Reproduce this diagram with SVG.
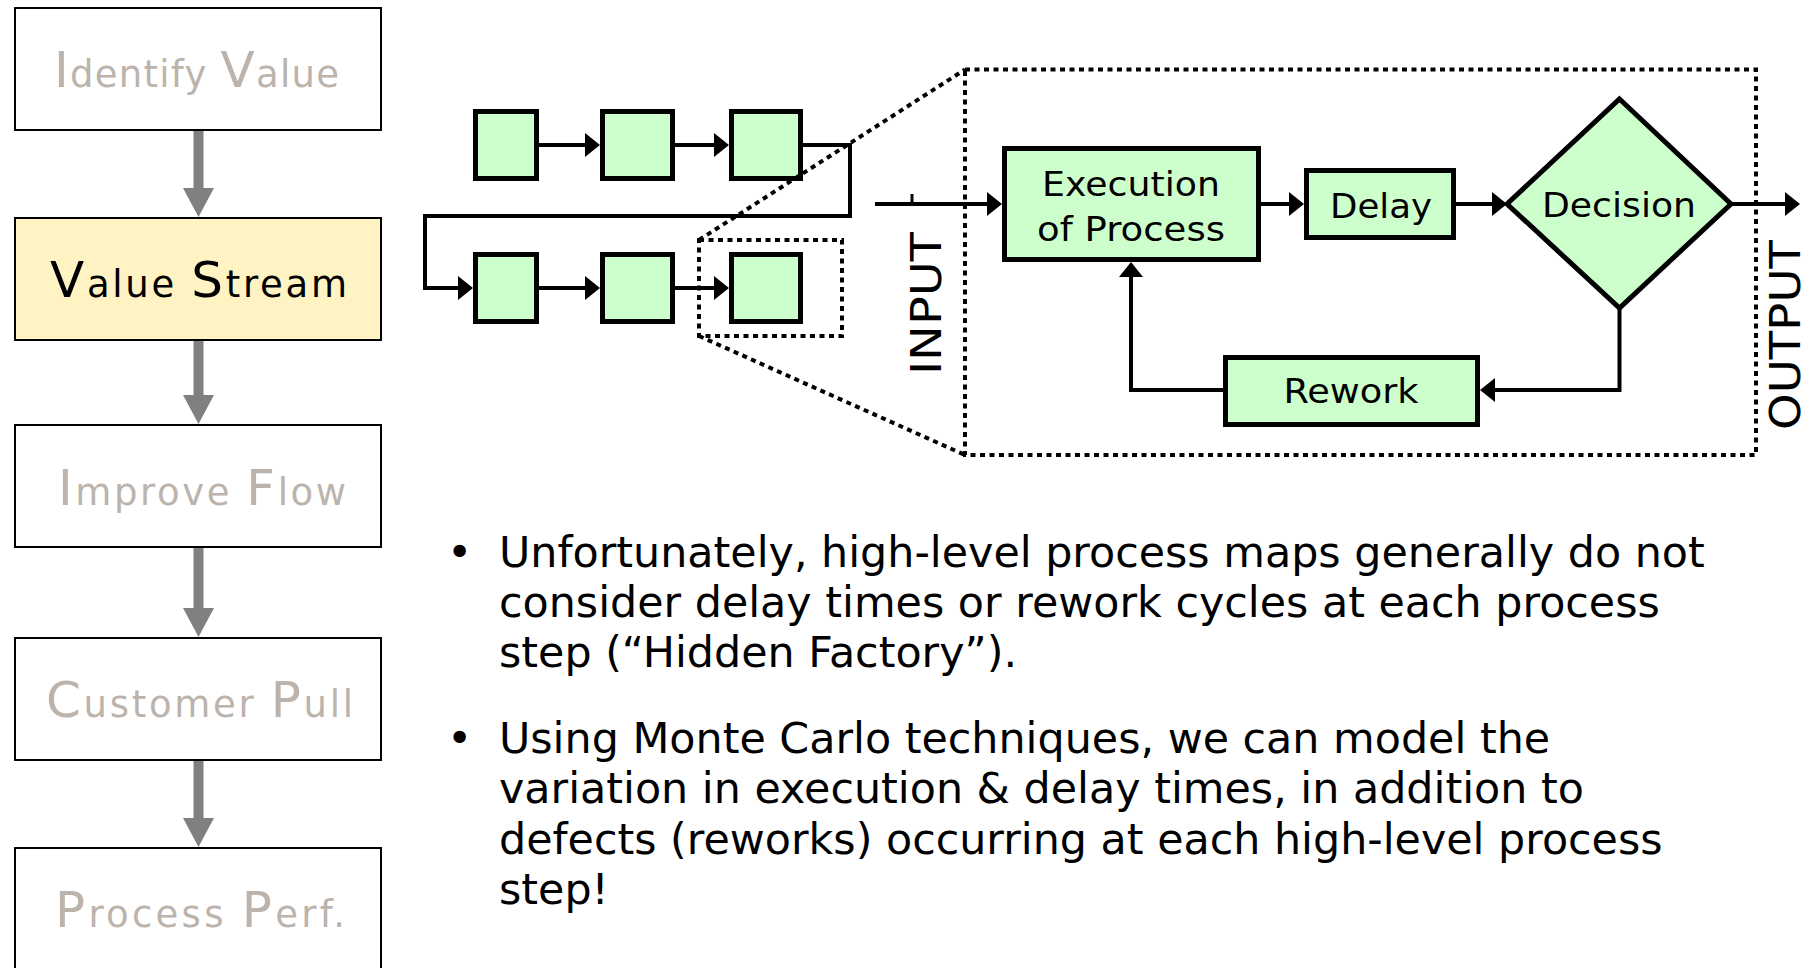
<svg xmlns="http://www.w3.org/2000/svg" width="1802" height="968" viewBox="0 0 1802 968">
  <defs>
    <style>
      .step { fill: #ffffff; stroke: #000000; stroke-width: 2; }
      .step.active { fill: #fff3c4; }
      .stepText { font-family: "DejaVu Sans", "Liberation Sans", sans-serif; fill: #bcb4ac; font-size: 37px; }
      .stepText.active { fill: #000000; }
      .cap { font-size: 50px; }
      .flowArrow { fill: #808080; }
      .box { fill: #ccffcc; stroke: #000000; stroke-width: 5; }
      .mini { fill: #ccffcc; stroke: #000000; stroke-width: 5; }
      .wire { fill: none; stroke: #000000; stroke-width: 4; marker-end: url(#head); }
      .plain { fill: none; stroke: #000000; stroke-width: 3; }
      .dots { fill: none; stroke: #000000; stroke-width: 4; stroke-dasharray: 5 4.5; }
      .label { font-family: "DejaVu Sans", "Liberation Sans", sans-serif; font-size: 33px; fill: #000000; text-anchor: middle; }
      .side { font-family: "DejaVu Sans", "Liberation Sans", sans-serif; font-size: 42.5px; fill: #000000; text-anchor: middle; }
      .body { font-family: "DejaVu Sans", "Liberation Sans", sans-serif; font-size: 42.8px; fill: #000000; }
    </style>
    <marker id="head" viewBox="0 -12 15 24" refX="0" refY="0" markerWidth="15" markerHeight="24" markerUnits="userSpaceOnUse" orient="auto">
      <path d="M0,-12 L15,0 L0,12 Z" fill="#000000"/>
    </marker>
  </defs>

  <rect width="1802" height="968" fill="#ffffff"/>

  <!-- Lean roadmap column -->
  <g id="step-identify-value">
    <rect class="step" x="15" y="8" width="366" height="122"/>
    <text class="stepText" x="54" y="87" textLength="285" lengthAdjust="spacing"><tspan class="cap">I</tspan>dentify <tspan class="cap">V</tspan>alue</text>
  </g>
  <g id="step-value-stream">
    <rect class="step active" x="15" y="218" width="366" height="122"/>
    <text class="stepText active" x="50" y="297" textLength="297" lengthAdjust="spacing"><tspan class="cap">V</tspan>alue <tspan class="cap">S</tspan>tream</text>
  </g>
  <g id="step-improve-flow">
    <rect class="step" x="15" y="425" width="366" height="122"/>
    <text class="stepText" x="58" y="505" textLength="288" lengthAdjust="spacing"><tspan class="cap">I</tspan>mprove <tspan class="cap">F</tspan>low</text>
  </g>
  <g id="step-customer-pull">
    <rect class="step" x="15" y="638" width="366" height="122"/>
    <text class="stepText" x="46" y="717" textLength="307" lengthAdjust="spacing"><tspan class="cap">C</tspan>ustomer <tspan class="cap">P</tspan>ull</text>
  </g>
  <g id="step-process-perf">
    <rect class="step" x="15" y="848" width="366" height="200"/>
    <text class="stepText" x="55" y="927" textLength="290" lengthAdjust="spacing"><tspan class="cap">P</tspan>rocess <tspan class="cap">P</tspan>erf.</text>
  </g>

  <!-- Column arrows -->
  <g id="roadmap-connectors" class="flowArrow">
    <path d="M193.5,131 H203.5 V188 H214 L198.5,217 L183,188 H193.5 Z"/>
    <path d="M193.5,341 H203.5 V395 H214 L198.5,424 L183,395 H193.5 Z"/>
    <path d="M193.5,548 H203.5 V608 H214 L198.5,637 L183,608 H193.5 Z"/>
    <path d="M193.5,761 H203.5 V818 H214 L198.5,847 L183,818 H193.5 Z"/>
  </g>

  <!-- High-level process map -->
  <g id="map-step-1"><rect class="mini" x="475.5" y="111.5" width="61" height="67"/></g>
  <g id="map-step-2"><rect class="mini" x="602.5" y="111.5" width="70" height="67"/></g>
  <g id="map-step-3"><rect class="mini" x="731.5" y="111.5" width="69" height="67"/></g>
  <g id="map-step-4"><rect class="mini" x="475.5" y="254.5" width="61" height="67"/></g>
  <g id="map-step-5"><rect class="mini" x="602.5" y="254.5" width="70" height="67"/></g>
  <g id="map-step-6"><rect class="mini" x="731.5" y="254.5" width="69" height="67"/></g>

  <!-- Zoom callout -->
  <g id="zoom-callout">
    <rect class="dots" x="699" y="240" width="143" height="96"/>
    <line class="dots" x1="699" y1="240" x2="965" y2="69.5"/>
    <line class="dots" x1="699" y1="336" x2="965" y2="455"/>
    <rect class="dots" x="965" y="69.5" width="791" height="385.5"/>
  </g>

  <!-- Detailed step -->
  <g id="execution">
    <rect class="box" x="1004.5" y="148.5" width="254" height="111"/>
    <text class="label" x="1131" y="196" textLength="178" lengthAdjust="spacingAndGlyphs">Execution</text>
    <text class="label" x="1131" y="241" textLength="188" lengthAdjust="spacingAndGlyphs">of Process</text>
  </g>
  <g id="delay">
    <rect class="box" x="1306.5" y="170.5" width="147" height="67"/>
    <text class="label" x="1381" y="218" textLength="102" lengthAdjust="spacingAndGlyphs">Delay</text>
  </g>
  <g id="decision">
    <polygon class="box" points="1619.5,99 1731,204 1619.5,308 1507,204"/>
    <text class="label" x="1619" y="217" textLength="154" lengthAdjust="spacingAndGlyphs">Decision</text>
  </g>
  <g id="rework">
    <rect class="box" x="1225.5" y="357.5" width="252" height="67"/>
    <text class="label" x="1351" y="403" textLength="135" lengthAdjust="spacingAndGlyphs">Rework</text>
  </g>
  <g id="input-label">
    <text class="side" transform="translate(941,303.5) rotate(-90)" textLength="143" lengthAdjust="spacingAndGlyphs">INPUT</text>
  </g>
  <g id="output-label">
    <text class="side" transform="translate(1800,335) rotate(-90)" textLength="190" lengthAdjust="spacingAndGlyphs">OUTPUT</text>
  </g>

  <g id="connectors">
    <path class="wire" d="M539,145 H585"/>
    <path class="wire" d="M675,145 H714"/>
    <path class="wire" d="M803,145 H850 V216 H425 V288 H458"/>
    <path class="wire" d="M539,288 H585"/>
    <path class="wire" d="M675,288 H714"/>
    <path class="wire" d="M875,204 H987"/>
    <line class="plain" x1="912" y1="194" x2="912" y2="204" stroke-width="2"/>
    <path class="wire" d="M1261,204 H1289"/>
    <path class="wire" d="M1456,204 H1492"/>
    <path class="wire" d="M1731,204 H1785"/>
    <path class="wire" d="M1619.5,308 V390 H1495"/>
    <path class="wire" d="M1223,390 H1131 V277"/>
  </g>

  <!-- Notes -->
  <g id="notes" class="body">
    <text x="447" y="567">•</text>
    <text x="499" y="567">Unfortunately, high-level process maps generally do not</text>
    <text x="499" y="617">consider delay times or rework cycles at each process</text>
    <text x="499" y="667">step (“Hidden Factory”).</text>
    <text x="447" y="753">•</text>
    <text x="499" y="753">Using Monte Carlo techniques, we can model the</text>
    <text x="499" y="803">variation in execution &amp; delay times, in addition to</text>
    <text x="499" y="854">defects (reworks) occurring at each high-level process</text>
    <text x="499" y="904">step!</text>
  </g>
</svg>
